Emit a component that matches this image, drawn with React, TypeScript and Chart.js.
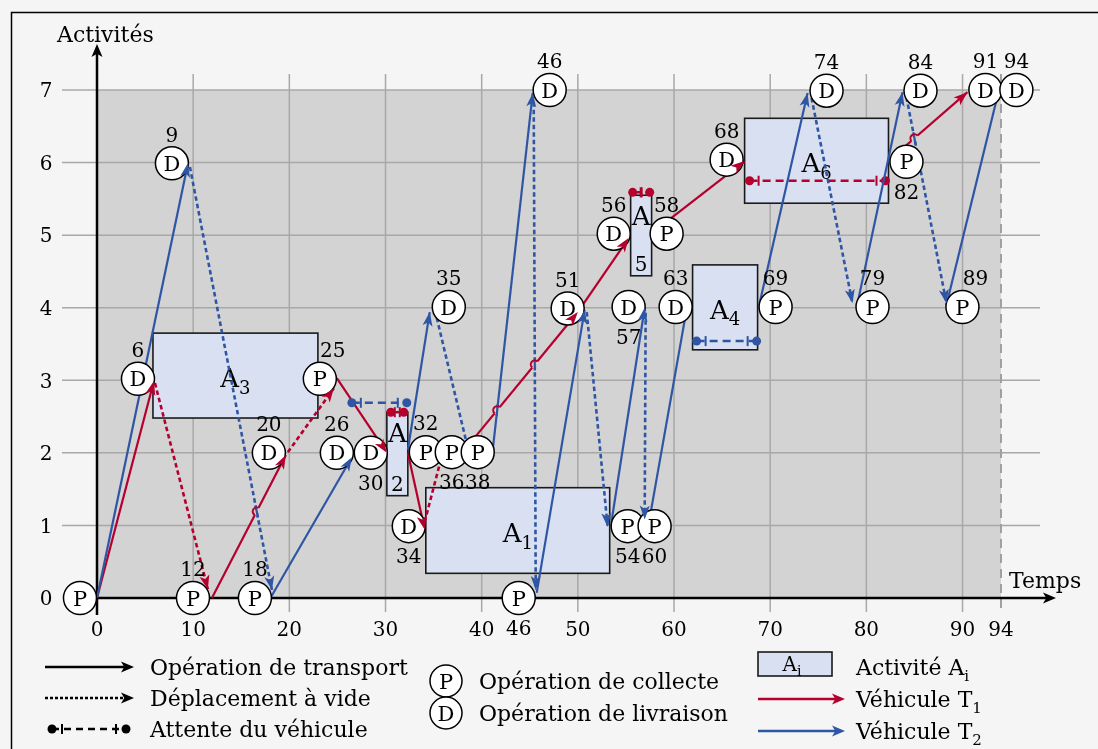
import React, { useEffect, useRef } from "react";
import { Chart, registerables } from "chart.js";

Chart.register(...registerables);

// ---------- axes ----------
const xTicks = [0, 10, 20, 30, 40, 50, 60, 70, 80, 90, 94];
const yTicks = [0, 1, 2, 3, 4, 5, 6, 7];
const xGridValues = [10, 20, 30, 40, 50, 60, 70, 80, 90];
const yGridValues = [1, 2, 3, 4, 5, 6, 7];
const horizonValue = 94;
const xTitle = "Temps";
const yTitle = "Activités";

// ---------- vehicle paths: [x1, y1, x2, y2, arrowVisible] ----------
const t1Transport = [
  [0, 0, 5.92, 2.99, 1],
  [11.95, 0, 19.64, 1.97, 1],
  [24.94, 3.03, 30.14, 2.0, 1],
  [32.32, 2.0, 34.08, 0.94, 1],
  [38.03, 2.01, 50.0, 3.94, 1],
  [50.1, 3.96, 55.28, 4.96, 1],
  [57.99, 5.06, 67.34, 6.02, 1],
  [82.6, 6.06, 90.51, 6.97, 1],
];
const t1Empty = [
  [6.03, 2.96, 11.53, 0.12, 1],
  [19.85, 2.01, 24.63, 2.89, 1],
  [34.08, 1.05, 35.9, 1.98, 0],
];
// [xStart, xEnd, y]
const t1Wait = [
  [30.55, 31.9, 2.56],
  [55.7, 57.47, 5.59],
  [67.86, 81.99, 5.75],
];

const t2Transport = [
  [0, 0, 9.46, 5.99, 1],
  [18.08, 0.01, 26.5, 1.94, 1],
  [32.32, 2.04, 34.6, 3.94, 1],
  [41.15, 2.04, 45.31, 6.96, 1],
  [45.72, 0.07, 50.71, 3.97, 1],
  [53.52, 1.07, 56.95, 4.0, 1],
  [57.47, 1.1, 61.3, 3.97, 0],
  [68.9, 4.06, 73.89, 6.96, 1],
  [79.08, 4.06, 83.76, 6.97, 1],
  [88.33, 4.04, 93.75, 6.98, 0],
];
const t2Empty = [
  [9.66, 5.94, 18.19, 0.11, 1],
  [35.33, 3.86, 38.66, 2.01, 0],
  [45.41, 6.83, 45.62, 0.11, 1],
  [50.92, 3.94, 53.1, 0.98, 1],
  [57.05, 3.93, 56.95, 1.08, 1],
  [74.3, 6.89, 78.56, 4.06, 1],
  [84.17, 6.9, 88.33, 4.06, 1],
];
const t2Wait = [
  [26.5, 32.21, 2.69],
  [62.35, 68.59, 3.54],
];

// ---------- activities ----------
const activityIndex = ["1", "2", "3", "4", "5", "6"];
const activityStart = [34.19, 30.14, 5.82, 61.93, 55.49, 67.34];
const activityEnd = [53.31, 32.32, 22.97, 68.69, 57.67, 82.3];
const activityLow = [0.34, 1.41, 2.48, 3.42, 4.44, 5.44];
const activityHigh = [1.52, 2.56, 3.65, 4.59, 5.55, 6.61];

// ---------- operations (circle centres) ----------
const nodeType = ["P", "D", "P", "P", "D", "D", "P", "D", "D", "P", "P", "P", "D", "D", "D", "P", "D", "D", "D", "P", "P", "D", "P", "D", "P", "D", "P", "P", "D", "P", "D", "D"];
const nodeX = [-1.77, 4.26, 9.98, 16.42, 7.79, 17.87, 23.17, 24.94, 28.47, 34.19, 36.89, 39.59, 32.42, 36.58, 47.07, 43.85, 48.94, 55.28, 60.17, 55.18, 57.98, 53.73, 59.23, 65.47, 70.56, 75.86, 80.64, 84.17, 85.63, 89.99, 92.38, 95.6];
const nodeY = [0, 3.02, 0, 0, 5.99, 2.0, 3.02, 2.0, 2.0, 2.01, 2.01, 2.01, 0.99, 4.01, 7, 0, 3.99, 4.01, 4.01, 0.99, 0.99, 5.02, 5.02, 6.04, 4.01, 6.99, 4.01, 6.01, 6.99, 4.01, 7, 7];
const nodeLabel = ["", "6", "12", "18", "9", "20", "25", "26", "30", "32", "36", "38", "34", "35", "46", "46", "51", "57", "63", "54", "60", "56", "58", "68", "69", "74", "79", "82", "84", "89", "91", "94"];
const nodeLabelSide = ["a", "a", "a", "a", "a", "a", "ar", "a", "b", "a", "b", "b", "b", "a", "a", "b", "a", "b", "a", "b", "b", "a", "a", "a", "a", "a", "a", "b", "a", "ar", "a", "a"];

// ---------- legend ----------
const legendLines = ["Opération de transport", "Déplacement à vide", "Attente du véhicule"];
const legendOps = [["P", "Opération de collecte"], ["D", "Opération de livraison"]];
const legendRight = [["Activité A", "i"], ["Véhicule T", "1"], ["Véhicule T", "2"]];

const FONT = "'DejaVu Serif', serif";
const RED = "#b5002e";
const BLUE = "#2f56a4";
const ACT_FILL = "#d9e0f2";
const PLOT_BG = "#d3d3d3";
const PAGE_BG = "#f5f5f5";
const GRID = "#a8a8a8";
const R = 16.5;

function arrowHead(ctx: any, x1: number, y1: number, x2: number, y2: number, color: string, len = 14, half = 5) {
  const dx = x2 - x1, dy = y2 - y1;
  const L = Math.hypot(dx, dy) || 1;
  const ux = dx / L, uy = dy / L;
  const nx = -uy, ny = ux;
  const bx = x2 - ux * len, by = y2 - uy * len;
  const mx = x2 - ux * len * 0.75, my = y2 - uy * len * 0.75;
  ctx.beginPath();
  ctx.moveTo(x2, y2);
  ctx.lineTo(bx + nx * half, by + ny * half);
  ctx.lineTo(mx, my);
  ctx.lineTo(bx - nx * half, by - ny * half);
  ctx.closePath();
  ctx.fillStyle = color;
  ctx.fill();
}

function textSub(ctx: any, main: string, sub: string, x: number, y: number, size: number, subSize: number, align: "left" | "center") {
  ctx.font = `${size}px ${FONT}`;
  const w1 = ctx.measureText(main).width;
  ctx.font = `${subSize}px ${FONT}`;
  const w2 = ctx.measureText(sub).width;
  let start = x;
  if (align === "center") start = x - (w1 + w2) / 2;
  ctx.textAlign = "left";
  ctx.textBaseline = "alphabetic";
  ctx.fillStyle = "#000";
  ctx.font = `${size}px ${FONT}`;
  ctx.fillText(main, start, y);
  ctx.font = `${subSize}px ${FONT}`;
  ctx.fillText(sub, start + w1, y + size * 0.25);
}

function circleNode(ctx: any, cx: number, cy: number, letter: string, r = R) {
  ctx.beginPath();
  ctx.arc(cx, cy, r, 0, Math.PI * 2);
  ctx.fillStyle = "#fff";
  ctx.fill();
  ctx.lineWidth = 1.5;
  ctx.strokeStyle = "#000";
  ctx.stroke();
  ctx.fillStyle = "#000";
  ctx.font = `21px ${FONT}`;
  ctx.textAlign = "center";
  ctx.textBaseline = "alphabetic";
  ctx.fillText(letter, cx, cy + 7.6);
}

function waitSymbol(ctx: any, x1: number, x2: number, y: number, color: string) {
  ctx.strokeStyle = color;
  ctx.lineWidth = 2;
  const inset = 9;
  [x1 + inset, x2 - inset].forEach((tx) => {
    ctx.beginPath();
    ctx.moveTo(tx, y - 5);
    ctx.lineTo(tx, y + 5);
    ctx.stroke();
  });
}

function segIntersect(a: number[], b: number[]) {
  const [x1, y1, x2, y2] = a;
  const [x3, y3, x4, y4] = b;
  const d = (x2 - x1) * (y4 - y3) - (y2 - y1) * (x4 - x3);
  if (Math.abs(d) < 1e-9) return null;
  const t = ((x3 - x1) * (y4 - y3) - (y3 - y1) * (x4 - x3)) / d;
  const u = ((x3 - x1) * (y2 - y1) - (y3 - y1) * (x2 - x1)) / d;
  if (t > 0.1 && t < 0.9 && u > 0.05 && u < 0.95) return { t, x: x1 + t * (x2 - x1), y: y1 + t * (y2 - y1) };
  return null;
}

const diagramPlugin = {
  id: "diagram",
  beforeDraw(chart: any) {
    const ctx = chart.ctx;
    const xs = chart.scales.x, ys = chart.scales.y;
    const X = (v: number) => xs.getPixelForValue(v);
    const Y = (v: number) => ys.getPixelForValue(v);
    ctx.save();
    ctx.fillStyle = PAGE_BG;
    ctx.fillRect(0, 0, chart.width, chart.height);
    ctx.strokeStyle = "#000";
    ctx.lineWidth = 1.5;
    ctx.strokeRect(11.5, 12.5, chart.width + 20, chart.height + 20);

    const x0 = X(0), xh = X(horizonValue), y0 = Y(0), yTop = Y(yTicks[yTicks.length - 1]);
    ctx.fillStyle = PLOT_BG;
    ctx.fillRect(x0, yTop, xh - x0, y0 - yTop);

    // grid
    ctx.strokeStyle = GRID;
    ctx.lineWidth = 1.5;
    xGridValues.forEach((v) => {
      ctx.beginPath();
      ctx.moveTo(X(v), yTop - 16);
      ctx.lineTo(X(v), y0 + 14);
      ctx.stroke();
    });
    yGridValues.forEach((v) => {
      ctx.beginPath();
      ctx.moveTo(x0 - 35, Y(v));
      ctx.lineTo(xh + 39, Y(v));
      ctx.stroke();
    });
    // horizon
    ctx.save();
    ctx.setLineDash([9, 6]);
    ctx.strokeStyle = "#a0a0a0";
    ctx.lineWidth = 2;
    ctx.beginPath();
    ctx.moveTo(xh, yTop - 16);
    ctx.lineTo(xh, y0 + 16);
    ctx.stroke();
    ctx.restore();

    // activities
    activityIndex.forEach((idx, i) => {
      const ax1 = X(activityStart[i]), ax2 = X(activityEnd[i]);
      const ay1 = Y(activityHigh[i]), ay2 = Y(activityLow[i]);
      ctx.fillStyle = ACT_FILL;
      ctx.fillRect(ax1, ay1, ax2 - ax1, ay2 - ay1);
      ctx.strokeStyle = "#1a1a1a";
      ctx.lineWidth = 1.6;
      ctx.strokeRect(ax1, ay1, ax2 - ax1, ay2 - ay1);
      const cx = (ax1 + ax2) / 2;
      if (ax2 - ax1 < 35) {
        ctx.fillStyle = "#000";
        ctx.textAlign = "center";
        ctx.textBaseline = "alphabetic";
        ctx.font = `26px ${FONT}`;
        ctx.fillText("A", cx, ay1 + 20 + 9.5);
        ctx.font = `20px ${FONT}`;
        ctx.fillText(idx, cx, ay2 - 12 + 7.3);
      } else {
        const cy = (ay1 + ay2) / 2 + 2;
        textSub(ctx, "A", idx, cx, cy + 9.5, 26, 18, "center");
      }
    });

    // axes
    ctx.strokeStyle = "#000";
    ctx.lineWidth = 2.5;
    ctx.beginPath();
    ctx.moveTo(x0, y0 + 17);
    ctx.lineTo(x0, 52);
    ctx.stroke();
    arrowHead(ctx, x0, y0, x0, 44, "#000", 13, 5.5);
    ctx.beginPath();
    ctx.moveTo(x0, y0);
    ctx.lineTo(xh + 47, y0);
    ctx.stroke();
    arrowHead(ctx, x0, y0, xh + 55, y0, "#000", 13, 5.5);

    // tick labels
    ctx.fillStyle = "#000";
    ctx.font = `20px ${FONT}`;
    ctx.textAlign = "center";
    ctx.textBaseline = "alphabetic";
    yTicks.forEach((v) => ctx.fillText(String(v), 46, Y(v) + 7.3));
    xTicks.forEach((v) => ctx.fillText(String(v), X(v), y0 + 38));

    // titles
    ctx.font = `22px ${FONT}`;
    ctx.textAlign = "left";
    ctx.fillText(yTitle, 57, 42);
    ctx.fillText(xTitle, xh + 8, y0 - 10);
    ctx.restore();
  },
  afterDatasetsDraw(chart: any) {
    const ctx = chart.ctx;
    const xs = chart.scales.x, ys = chart.scales.y;
    const X = (v: number) => xs.getPixelForValue(v);
    const Y = (v: number) => ys.getPixelForValue(v);
    const px = (s: number[]) => [X(s[0]), Y(s[1]), X(s[2]), Y(s[3])];
    ctx.save();

    // wait ticks
    t1Wait.forEach((w) => waitSymbol(ctx, X(w[0]), X(w[1]), Y(w[2]), RED));
    t2Wait.forEach((w) => waitSymbol(ctx, X(w[0]), X(w[1]), Y(w[2]), BLUE));

    // hops where red transport crosses blue paths
    const blues = [...t2Transport, ...t2Empty].map(px);
    t1Transport.map(px).forEach((rs) => {
      blues.forEach((bs) => {
        const hit = segIntersect(rs, bs);
        if (!hit) return;
        const dx = rs[2] - rs[0], dy = rs[3] - rs[1];
        const L = Math.hypot(dx, dy);
        const ux = dx / L, uy = dy / L;
        const hr = 4;
        ctx.strokeStyle = PLOT_BG;
        ctx.lineWidth = 3.5;
        ctx.beginPath();
        ctx.moveTo(hit.x - ux * hr, hit.y - uy * hr);
        ctx.lineTo(hit.x + ux * hr, hit.y + uy * hr);
        ctx.stroke();
        ctx.strokeStyle = BLUE;
        ctx.lineWidth = 2.2;
        const bdx = bs[2] - bs[0], bdy = bs[3] - bs[1];
        const bl = Math.hypot(bdx, bdy);
        ctx.beginPath();
        ctx.moveTo(hit.x - (bdx / bl) * 6, hit.y - (bdy / bl) * 6);
        ctx.lineTo(hit.x + (bdx / bl) * 6, hit.y + (bdy / bl) * 6);
        ctx.stroke();
        const a0 = Math.atan2(-uy, -ux);
        ctx.strokeStyle = RED;
        ctx.lineWidth = 2;
        ctx.beginPath();
        ctx.arc(hit.x, hit.y, hr, a0, a0 + Math.PI, false);
        ctx.stroke();
      });
    });

    // operation circles and labels
    nodeType.forEach((t, i) => {
      const cx = X(nodeX[i]), cy = Y(nodeY[i]);
      circleNode(ctx, cx, cy, t);
    });
    ctx.fillStyle = "#000";
    ctx.font = `20px ${FONT}`;
    ctx.textAlign = "center";
    ctx.textBaseline = "alphabetic";
    nodeLabel.forEach((lab, i) => {
      if (!lab) return;
      const cx = X(nodeX[i]), cy = Y(nodeY[i]);
      const side = nodeLabelSide[i];
      const lx = side === "ar" ? cx + 13 : cx;
      const ly = side === "b" ? cy + 30 : cy - 29;
      ctx.fillText(lab, lx, ly + 7.3);
    });

    // arrowheads
    const heads = (list: number[][], color: string) =>
      list.forEach((s) => {
        if (!s[4]) return;
        const p = px(s);
        arrowHead(ctx, p[0], p[1], p[2], p[3], color);
      });
    heads(t2Transport, BLUE);
    heads(t2Empty, BLUE);
    heads(t1Transport, RED);
    heads(t1Empty, RED);

    // ---------- legend ----------
    const rows = [667, 698, 729];
    ctx.lineWidth = 2.5;
    ctx.strokeStyle = "#000";
    ctx.setLineDash([]);
    ctx.beginPath();
    ctx.moveTo(45, rows[0]);
    ctx.lineTo(128, rows[0]);
    ctx.stroke();
    arrowHead(ctx, 45, rows[0], 134, rows[0], "#000", 13, 5.5);
    ctx.setLineDash([3, 2]);
    ctx.beginPath();
    ctx.moveTo(45, rows[1]);
    ctx.lineTo(128, rows[1]);
    ctx.stroke();
    ctx.setLineDash([]);
    arrowHead(ctx, 45, rows[1], 134, rows[1], "#000", 13, 5.5);
    ctx.setLineDash([7, 5]);
    ctx.beginPath();
    ctx.moveTo(52, rows[2]);
    ctx.lineTo(126, rows[2]);
    ctx.stroke();
    ctx.setLineDash([]);
    ctx.fillStyle = "#000";
    [52, 126].forEach((dx) => {
      ctx.beginPath();
      ctx.arc(dx, rows[2], 4.5, 0, Math.PI * 2);
      ctx.fill();
    });
    ctx.lineWidth = 2;
    [62, 116].forEach((tx) => {
      ctx.beginPath();
      ctx.moveTo(tx, rows[2] - 5);
      ctx.lineTo(tx, rows[2] + 5);
      ctx.stroke();
    });
    ctx.font = `22px ${FONT}`;
    ctx.textAlign = "left";
    ctx.textBaseline = "alphabetic";
    legendLines.forEach((txt, i) => ctx.fillText(txt, 150, rows[i] + 8));

    const opRows = [681, 713];
    legendOps.forEach(([letter, txt], i) => {
      circleNode(ctx, 446, opRows[i], letter, 16);
      ctx.fillStyle = "#000";
      ctx.font = `22px ${FONT}`;
      ctx.textAlign = "left";
      ctx.fillText(txt, 479, opRows[i] + 8);
    });

    ctx.fillStyle = ACT_FILL;
    ctx.fillRect(758, 652, 74, 24);
    ctx.strokeStyle = "#1a1a1a";
    ctx.lineWidth = 1.6;
    ctx.strokeRect(758, 652, 74, 24);
    textSub(ctx, "A", "i", 792, 671, 20, 14, "center");

    ctx.lineWidth = 2.5;
    ctx.strokeStyle = RED;
    ctx.beginPath();
    ctx.moveTo(758, 699);
    ctx.lineTo(838, 699);
    ctx.stroke();
    arrowHead(ctx, 758, 699, 845, 699, RED, 13, 5.5);
    ctx.strokeStyle = BLUE;
    ctx.beginPath();
    ctx.moveTo(758, 731);
    ctx.lineTo(838, 731);
    ctx.stroke();
    arrowHead(ctx, 758, 731, 845, 731, BLUE, 13, 5.5);
    const rRows = [667, 699, 731];
    legendRight.forEach(([m, s], i) => textSub(ctx, m, s, 856, rRows[i] + 8, 22, 15, "left"));

    ctx.restore();
  },
};

function segDatasets(list: number[][], color: string, dashed: boolean) {
  return list.map((s) => ({
    data: [{ x: s[0], y: s[1] }, { x: s[2], y: s[3] }],
    showLine: true,
    borderColor: color,
    borderWidth: dashed ? 2.6 : 2.2,
    borderDash: dashed ? [4.5, 3] : [],
    pointRadius: 0,
    clip: false,
    fill: false,
  }));
}

function waitDatasets(list: number[][], color: string) {
  return list.map((w) => ({
    data: [{ x: w[0], y: w[2] }, { x: w[1], y: w[2] }],
    showLine: true,
    borderColor: color,
    borderWidth: 2.5,
    borderDash: [8, 5],
    pointRadius: 4.5,
    pointBackgroundColor: color,
    pointBorderColor: color,
    pointBorderWidth: 0,
    clip: false,
    fill: false,
  }));
}

export default function App() {
  const ref = useRef<HTMLCanvasElement | null>(null);
  useEffect(() => {
    if (!ref.current) return;
    const chart = new Chart(ref.current, {
      type: "scatter",
      data: {
        datasets: [
          ...waitDatasets(t2Wait, BLUE),
          ...segDatasets(t2Empty, BLUE, true),
          ...segDatasets(t2Transport, BLUE, false),
          ...waitDatasets(t1Wait, RED),
          ...segDatasets(t1Empty, RED, true),
          ...segDatasets(t1Transport, RED, false),
        ] as any,
      },
      options: {
        animation: false,
        responsive: false,
        devicePixelRatio: 1,
        events: [],
        layout: { padding: { left: 97, right: 97, top: 90, bottom: 151 } },
        scales: {
          x: { type: "linear", min: xTicks[0], max: xTicks[xTicks.length - 1], display: false },
          y: { type: "linear", min: yTicks[0], max: yTicks[yTicks.length - 1], display: false },
        },
        plugins: { legend: { display: false }, tooltip: { enabled: false } },
      },
      plugins: [diagramPlugin],
    });
    return () => chart.destroy();
  }, []);
  return (
    <div style={{ position: "fixed", left: 0, top: 0, width: 1098, height: 749 }}>
      <canvas ref={ref} width={1098} height={749} style={{ width: 1098, height: 749 }} />
    </div>
  );
}
